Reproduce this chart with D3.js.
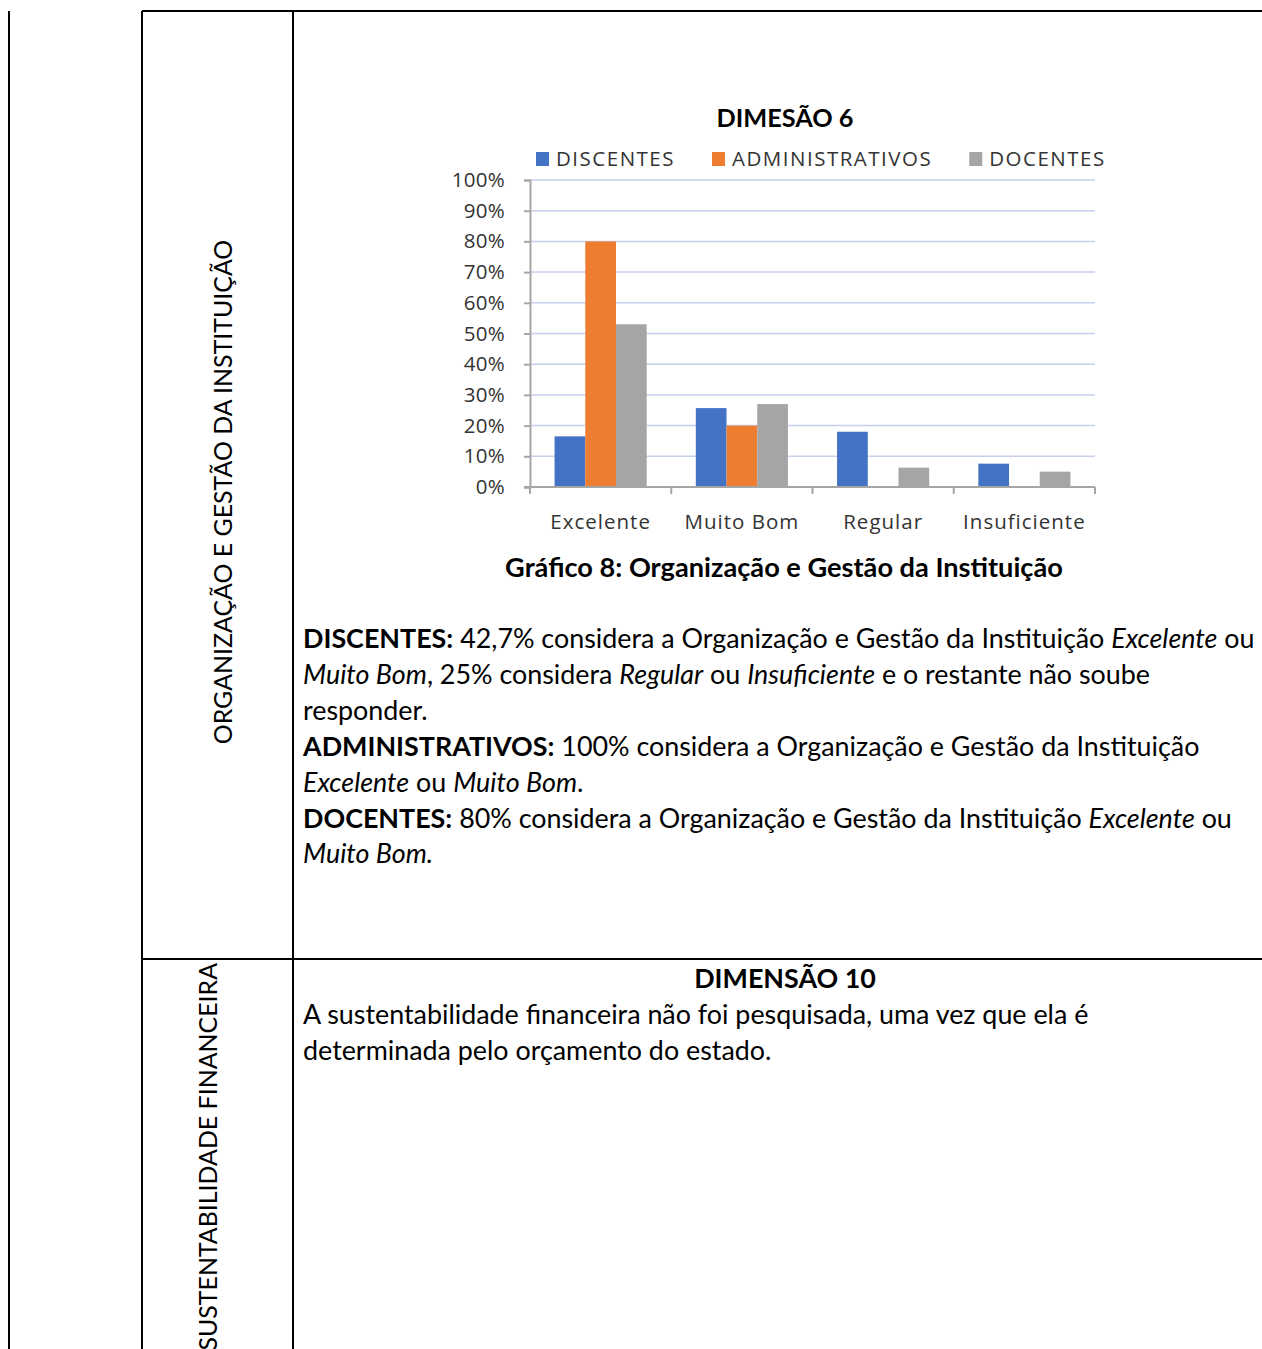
<!DOCTYPE html>
<html>
<head>
<meta charset="utf-8">
<script src="https://cdn.jsdelivr.net/npm/d3@7"></script>
<style>
  html, body { margin: 0; padding: 0; background: #fff; }
  svg { display: block; }
  text { white-space: pre; }
</style>
</head>
<body>
<svg id="page" width="1262" height="1349"></svg>
<script>
// ---------- data ----------
const categories = ["Excelente", "Muito Bom", "Regular", "Insuficiente"];
const seriesNames = ["DISCENTES", "ADMINISTRATIVOS", "DOCENTES"];
const discentes = [0.165, 0.257, 0.18, 0.076];
const administrativos = [0.80, 0.20, 0, 0];
const docentes = [0.53, 0.27, 0.063, 0.05];
const yTickValues = [0, 0.1, 0.2, 0.3, 0.4, 0.5, 0.6, 0.7, 0.8, 0.9, 1.0];
const seriesColors = ["#4472C4", "#ED7D31", "#A5A5A5"];

const chartTitle = "DIMESÃO 6";
const caption = "Gráfico 8: Organização e Gestão da Instituição";
const rowLabel1 = "ORGANIZAÇÃO E GESTÃO DA INSTITUIÇÃO";
const rowLabel2 = "SUSTENTABILIDADE FINANCEIRA";
const dim10Title = "DIMENSÃO 10";
const bodyLines = [
  [["b", "DISCENTES:"], ["n", " 42,7% considera a Organização e Gestão da Instituição "], ["i", "Excelente"], ["n", " ou"]],
  [["i", "Muito Bom"], ["n", ", 25% considera "], ["i", "Regular"], ["n", " ou "], ["i", "Insuficiente"], ["n", " e o restante não soube"]],
  [["n", "responder."]],
  [["b", "ADMINISTRATIVOS:"], ["n", " 100% considera a Organização e Gestão da Instituição"]],
  [["i", "Excelente"], ["n", " ou "], ["i", "Muito Bom"], ["n", "."]],
  [["b", "DOCENTES:"], ["n", " 80% considera a Organização e Gestão da Instituição "], ["i", "Excelente"], ["n", " ou"]],
  [["i", "Muito Bom."]]
];
const dim10Lines = [
  [["n", "A sustentabilidade financeira não foi pesquisada, uma vez que ela é"]],
  [["n", "determinada pelo orçamento do estado."]]
];

// ---------- page ----------
const svg = d3.select("#page");
const docFont = "Lato, 'Open Sans', sans-serif";
const chartFont = "'Open Sans', 'DejaVu Sans', sans-serif";

// table lines
const lines = [
  [9, 11, 9, 1349],
  [142, 11, 1262, 11],
  [142, 11, 142, 1349],
  [293, 11, 293, 1349],
  [142, 959, 1262, 959]
];
svg.append("g").selectAll("line").data(lines).join("line")
  .attr("x1", d => d[0]).attr("y1", d => d[1]).attr("x2", d => d[2]).attr("y2", d => d[3])
  .attr("stroke", "#000").attr("stroke-width", 2);

function fitFont(textSel, targetWidth, baseSize) {
  textSel.attr("font-size", baseSize);
  const w = textSel.node().getComputedTextLength();
  const size = baseSize * targetWidth / w;
  textSel.attr("font-size", size);
  return size;
}

// rotated row labels
const rl1 = svg.append("text")
  .attr("transform", "translate(232,492) rotate(-90)")
  .attr("text-anchor", "middle").attr("font-family", docFont).attr("fill", "#000")
  .text(rowLabel1);
fitFont(rl1, 505, 22);
const rl2 = svg.append("text")
  .attr("transform", "translate(217,963) rotate(-90)")
  .attr("text-anchor", "end").attr("font-family", docFont).attr("fill", "#000")
  .text(rowLabel2);
rl2.attr("font-size", rl1.attr("font-size"));

// body text
function writeLines(linesArr, x, y0, step, size) {
  linesArr.forEach((segs, i) => {
    const t = svg.append("text").attr("x", x).attr("y", y0 + i * step)
      .attr("font-family", docFont).attr("font-size", size).attr("fill", "#000");
    segs.forEach(([s, str]) => {
      t.append("tspan")
        .attr("font-weight", s === "b" ? "bold" : "normal")
        .attr("font-style", s === "i" ? "italic" : "normal")
        .text(str);
    });
  });
}
const probe = svg.append("text").attr("font-family", docFont).attr("x", -2000).attr("y", -100);
bodyLines[0].forEach(([s, str]) => probe.append("tspan")
  .attr("font-weight", s === "b" ? "bold" : "normal")
  .attr("font-style", s === "i" ? "italic" : "normal").text(str));
const bodySize = fitFont(probe, 952, 22);
probe.remove();

writeLines(bodyLines, 303, 648, 35.9, bodySize);
writeLines(dim10Lines, 303, 1024, 36, bodySize);

svg.append("text").attr("x", 785).attr("y", 988).attr("text-anchor", "middle")
  .attr("font-family", docFont).attr("font-weight", "bold").attr("font-size", bodySize)
  .text(dim10Title);

const cap = svg.append("text").attr("x", 784).attr("y", 577).attr("text-anchor", "middle")
  .attr("font-family", docFont).attr("font-weight", "bold").text(caption);
fitFont(cap, 558, 22);

// ---------- chart ----------
const plot = { left: 530, right: 1095, top: 180, bottom: 487 };
const chartSize = 20.5;
const chartSpacing = 1;
const legendSpacing = 1.5;
const chartText = "#333";

const title = svg.append("text").attr("x", 785).attr("y", 127).attr("text-anchor", "middle")
  .attr("font-family", docFont).attr("font-weight", "bold").text(chartTitle);
fitFont(title, 137, 22);

const x0 = d3.scaleBand().domain(categories).range([plot.left, plot.right]).padding(0);
const x1 = d3.scaleBand().domain(seriesNames).range([0, x0.bandwidth()]).paddingInner(0).paddingOuter(0.8);
const y = d3.scaleLinear().domain([0, 1]).range([plot.bottom, plot.top]);
const color = d3.scaleOrdinal().domain(seriesNames).range(seriesColors);

const valuesBySeries = [discentes, administrativos, docentes];

// gridlines
svg.append("g").selectAll("line").data(yTickValues.filter(v => v > 0)).join("line")
  .attr("x1", plot.left).attr("x2", plot.right)
  .attr("y1", d => y(d)).attr("y2", d => y(d))
  .attr("stroke", "#c6d0ee").attr("stroke-width", 1.5);

// bars
const groups = svg.append("g").selectAll("g").data(categories).join("g")
  .attr("transform", d => `translate(${x0(d)},0)`);
groups.selectAll("rect")
  .data((c, ci) => seriesNames.map((s, si) => ({ s, v: valuesBySeries[si][ci] })))
  .join("rect")
  .attr("x", d => x1(d.s)).attr("width", x1.bandwidth())
  .attr("y", d => y(d.v)).attr("height", d => y(0) - y(d.v))
  .attr("fill", d => color(d.s));

// y axis
const yAxis = svg.append("g").attr("transform", `translate(${plot.left},0)`)
  .call(d3.axisLeft(y).tickValues(yTickValues).tickFormat(d3.format(".0%")).tickSize(6).tickPadding(19));
yAxis.select(".domain").attr("stroke", "#a6a6a6").attr("stroke-width", 2);
yAxis.selectAll(".tick line").attr("stroke", "#a6a6a6").attr("stroke-width", 2);
yAxis.selectAll(".tick text").attr("font-family", chartFont).attr("font-size", chartSize)
  .attr("letter-spacing", 0.3).attr("fill", chartText);

// x axis
const xAxis = svg.append("g").attr("transform", `translate(0,${plot.bottom})`)
  .call(d3.axisBottom(x0).tickSize(0).tickPadding(27));
xAxis.select(".domain").attr("d", `M${plot.left - 6},0H${plot.right}`).attr("stroke", "#a6a6a6").attr("stroke-width", 2);
xAxis.selectAll(".tick text").attr("font-family", chartFont).attr("font-size", chartSize)
  .attr("letter-spacing", chartSpacing).attr("fill", chartText);
xAxis.append("g").selectAll("line").data(categories.map(c => x0(c)).concat([plot.right])).join("line")
  .attr("x1", d => d).attr("x2", d => d).attr("y1", 0).attr("y2", 7)
  .attr("stroke", "#a6a6a6").attr("stroke-width", 2);

// legend
const legend = svg.append("g");
let lx = 536;
seriesNames.forEach((s, i) => {
  const g = legend.append("g").attr("transform", `translate(${lx},159)`);
  g.append("rect").attr("x", 0).attr("y", -7).attr("width", 13).attr("height", 14).attr("fill", color(s));
  const t = g.append("text").attr("x", 20).attr("y", 7).attr("font-family", chartFont)
    .attr("font-size", chartSize).attr("letter-spacing", legendSpacing).attr("fill", chartText).text(s);
  const w = t.node().getComputedTextLength();
  lx += 20 + w + 37;
});
</script>
</body>
</html>
